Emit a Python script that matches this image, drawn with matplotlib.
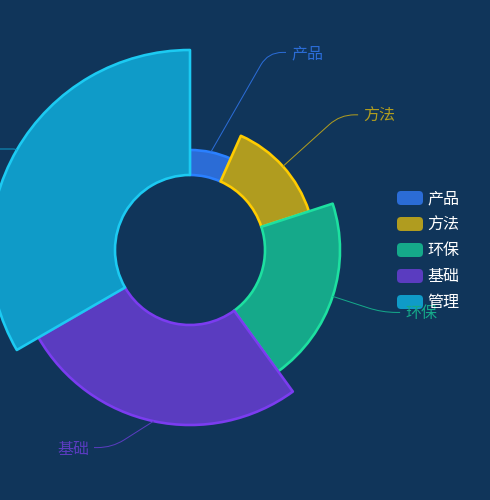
import numpy as np
import matplotlib
matplotlib.use('Agg')
import matplotlib.pyplot as plt
from matplotlib.patches import Wedge, FancyBboxPatch, PathPatch
from matplotlib.path import Path

plt.rcParams['font.family'] = ['Noto Sans CJK SC', 'DejaVu Sans']

# ---- data ----
names = ['产品', '方法', '环保', '基础', '管理']
values = [10, 20, 30, 40, 50]
fill_colors = ['#2b6cd6', '#b09c1f', '#15a98a', '#5a3cc0', '#0f9bc8']
edge_colors = ['#2a80ff', '#ffcc00', '#1de0a0', '#7b3cf0', '#1ccaf2']
bg = '#10355a'

W, H = 490, 500
fig = plt.figure(figsize=(4.9, 5.0), dpi=100)
fig.patch.set_facecolor(bg)
ax = fig.add_axes([0, 0, 1, 1])
ax.set_xlim(0, W)
ax.set_ylim(0, H)
ax.axis('off')

cx, cy = 190, 250
r0, r1 = 75, 200
label_r = 202
min_dx = 78
len2 = 18
total = sum(values)
vmax = max(values)
px = 72 / 100.0

cum = 0
for name, v, fc, ec in zip(names, values, fill_colors, edge_colors):
    a0 = cum / total * 360
    a1 = (cum + v) / total * 360
    cum += v
    r = r0 + (r1 - r0) * v / vmax
    w = Wedge((cx, cy), r, 90 - a1, 90 - a0, width=r - r0,
              facecolor=fc, edgecolor=ec, lw=2.6 * px, joinstyle='round', zorder=2)
    ax.add_patch(w)

    am = np.radians((a0 + a1) / 2)
    sx, sy = np.sin(am), np.cos(am)
    p0 = np.array([cx + r * sx, cy + r * sy])
    ey = cy + label_r * sy
    side = 1 if sx >= 0 else -1
    ex = cx + side * max(abs(label_r * sx), min_dx)
    p1 = np.array([ex, ey])
    p2 = np.array([ex + side * len2, ey])
    l1 = np.linalg.norm(p1 - p0)
    l2 = np.linalg.norm(p2 - p1)
    c = 0.8 * min(l1, l2)
    pA = p1 - (p1 - p0) / l1 * c
    pB = p1 + (p2 - p1) / l2 * c
    path = Path([p0, pA, p1, pB, p2],
                [Path.MOVETO, Path.LINETO, Path.CURVE3, Path.CURVE3, Path.LINETO])
    ax.add_patch(PathPatch(path, facecolor='none', edgecolor=fc, lw=1 * px, zorder=3))
    if p2[0] > 0:
        ax.text(p2[0] + side * 5, ey - 1.5, name, color=fc, fontsize=16 * px,
                ha='left' if side > 0 else 'right', va='center', zorder=5)

# ---- legend ----
lx, ly0, dy = 397, 198, 26
for i, (name, fc) in enumerate(zip(names, fill_colors)):
    yc = H - (ly0 + dy * i)
    ax.add_patch(FancyBboxPatch((lx, yc - 7), 26, 14,
                                boxstyle='round,pad=0,rounding_size=4',
                                facecolor=fc, edgecolor='none', zorder=4))
    ax.text(lx + 30, yc - 1, name, color='white', fontsize=16 * px,
            ha='left', va='center', zorder=6)

fig.savefig('out.png', dpi=100, facecolor=bg)
